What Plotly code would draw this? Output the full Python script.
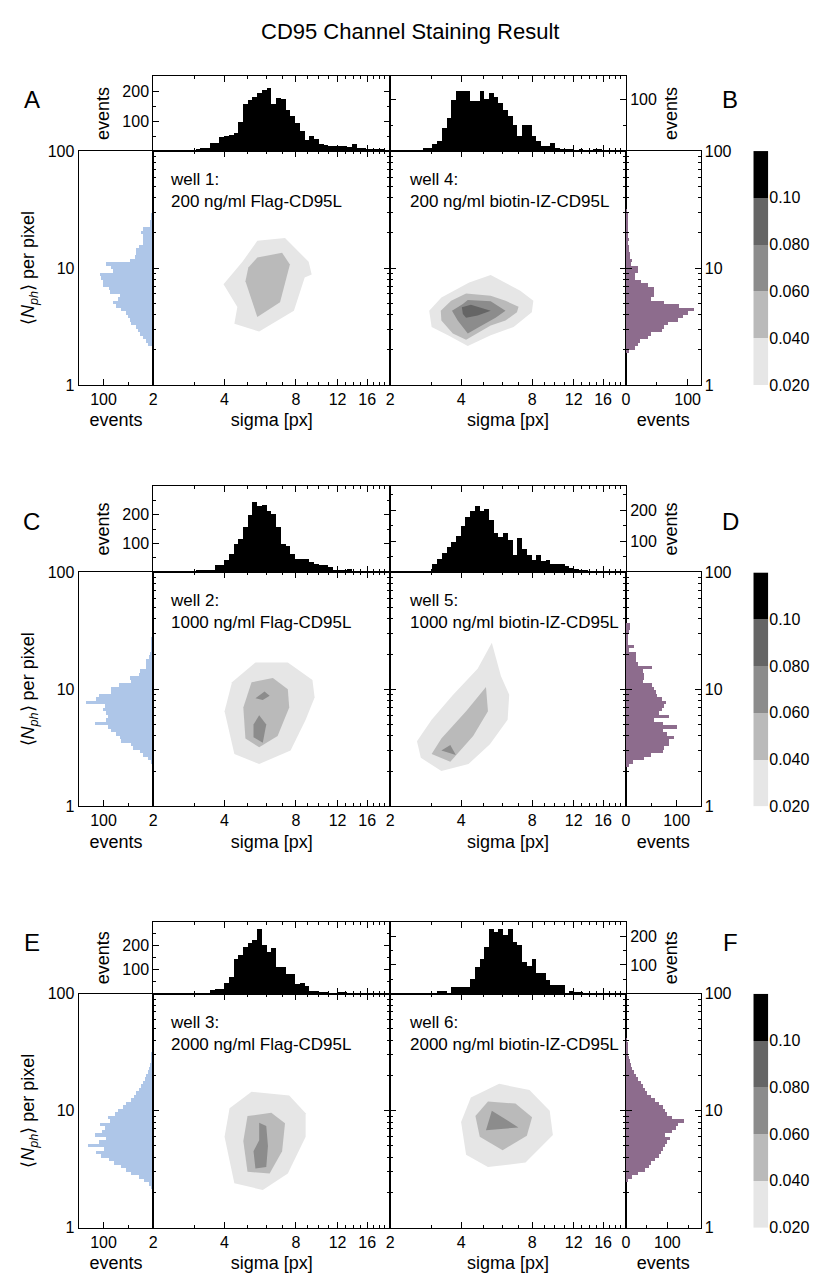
import numpy as np
import plotly.graph_objects as go

W, H = 816, 1285
FONT = "Liberation Sans, Arial, sans-serif"

# ---------------- data ----------------
title_text = "CD95 Channel Staining Result"
panel_letters = [("A", "B"), ("C", "D"), ("E", "F")]
well_left = ["well 1:<br>200 ng/ml Flag-CD95L",
             "well 2:<br>1000 ng/ml Flag-CD95L",
             "well 3:<br>2000 ng/ml Flag-CD95L"]
well_right = ["well 4:<br>200 ng/ml biotin-IZ-CD95L",
              "well 5:<br>1000 ng/ml biotin-IZ-CD95L",
              "well 6:<br>2000 ng/ml biotin-IZ-CD95L"]

sigma_ticks = [2, 4, 8, 12, 16]
sigma_minor = [3, 5, 6, 7, 9, 10, 11, 13, 14, 15, 17, 18, 19]
nph_ticks = [1, 10, 100]
nph_minor = [2, 3, 4, 5, 6, 7, 8, 9, 20, 30, 40, 50, 60, 70, 80, 90]
SIGMA_RANGE = (2, 20)
NPH_RANGE = (1, 100)

level_values = [0.02, 0.04, 0.06, 0.08, 0.10, 0.12]
level_labels = ["0.020", "0.040", "0.060", "0.080", "0.10"]
level_colors = ["#e6e6e6", "#bababa", "#8c8c8c", "#656565", "#000000"]

TOP_BIN = 0.02   # log10(sigma) bin width of the top histograms
SIDE_BIN = 0.03  # log10(Nph) bin width of the side histograms

# top histograms (events per sigma bin, 50 bins from 2 to 20 px)
top_left = [
    [0,0,0,0,0,2,2,0,3,8,11,11,28,28,48,50,55,62,97,158,172,183,197,205,211,159,180,175,139,117,94,67,36,50,39,22,19,18,17,17,16,13,22,11,10,8,7,5,4,3],
    [0,0,0,0,0,0,0,2,2,11,11,9,9,28,28,45,66,98,117,160,200,245,230,235,215,205,160,100,94,66,49,49,49,37,32,28,28,20,9,9,9,12,5,5,5,5,5,5,5,5],
    [0,0,0,0,0,0,0,0,0,3,3,3,18,21,21,48,69,148,162,194,212,225,270,205,173,190,113,113,83,83,41,48,32,14,14,10,10,3,3,7,7,2,2,2,2,2,2,2,2,1],
]
top_right = [
    [0,0,0,0,0,0,0,6,6,13,19,45,65,100,117,117,117,98,98,117,101,113,105,94,79,68,50,29,50,50,29,19,10,10,15,5,3,3,2,1,2,1,1,2,3,1,1,1,1,1],
    [0,0,0,0,0,2,2,6,6,30,46,65,84,100,118,150,180,200,215,200,205,170,127,116,129,105,57,111,78,59,43,57,38,41,27,30,30,23,14,11,9,9,6,6,3,3,3,1,1,1],
    [0,0,0,0,0,0,0,0,0,0,11,11,4,26,26,26,26,52,94,120,163,225,217,225,206,227,182,170,111,98,120,74,74,49,32,32,32,0,11,7,7,2,2,1,1,0,1,0,0,0],
]
top_left_range = [253, 300, 300]
top_right_range = [146, 280, 250]

# side histograms (events per log10(Nph) bin of 0.03, starting at bin index *_start)
side_left_start = [11, 12, 11]
side_left = [
    [12,15,22,28,32,35,45,48,51,55,65,75,81,71,68,88,90,101,101,105,108,81,85,95,48,38,35,35,30,21,22,21,25,22,8,8,5,5,3],
    [5,12,21,28,41,45,65,68,75,85,91,118,95,91,95,101,98,135,115,110,85,85,70,45,48,30,28,15,15,15,10,8,6,6,5,5,4,4,3,3,2],
    [5,10,20,30,45,55,65,80,90,105,115,100,132,110,95,118,104,98,108,88,92,78,72,62,56,46,40,35,30,25,22,18,15,12,10,8,6,5,5,4,3,3,2,2],
]
side_right_start = [9, 11, 13]
side_right = [
    [5,14,19,22,35,40,59,62,68,84,92,100,111,86,62,40,46,46,46,35,25,14,14,19,19,8,10,6,6,5,5,4,5,3,3,3,2,2,2,2,1],
    [6,13,36,49,72,75,85,85,95,80,72,101,72,56,85,65,70,75,78,70,62,59,55,52,33,36,35,33,52,23,20,20,20,6,16,3,3,3,6,8,8],
    [5,15,30,45,55,60,70,80,85,90,95,100,105,95,110,120,125,140,110,100,95,90,80,70,60,50,45,40,35,30,25,20,15,12,10,8,6,5,4,3,2],
]
side_left_range = [150, 150, 150]
side_right_range = [121, 147, 180]

# density contour levels: boundary of each level (sigma [px], <Nph>) per well
contours_left = [
    [  # well 1
        [(5.50,17.1),(7.20,18.1),(9.06,11.3),(9.33,8.8),(8.72,8.3),(7.85,4.3),(5.60,2.86),(4.40,3.34),(4.53,4.64),(3.96,7.26),(4.76,11.3)],
        [(5.50,12.3),(7.00,13.5),(7.55,10.7),(6.86,5.1),(5.50,3.82),(5.24,5.2),(4.90,7.7),(5.04,10.1)],
    ],
    [  # well 2
        [(4.4,2.8),(5.6,2.3),(7.6,3.0),(8.8,5.5),(9.6,8.5),(9.4,12),(7.4,17),(5.4,17),(4.3,11.5),(4.0,6.5)],
        [(4.9,3.8),(5.6,3.2),(6.7,4.0),(7.5,7.0),(7.4,10),(6.4,12.5),(5.2,11.5),(4.8,7.0)],
        [(5.4,8.4),(5.9,9.6),(6.2,8.8),(5.8,8.1)],
        [(5.3,3.9),(5.8,3.5),(6.0,5.0),(5.6,6.0),(5.3,5.0)],
    ],
    [  # well 3
        [(4.4,2.4),(5.8,2.1),(7.4,2.9),(8.8,6.0),(8.8,9.5),(7.5,13.5),(5.2,14.5),(4.2,10.5),(4.0,6.0)],
        [(5.0,3.0),(6.2,2.9),(7.0,4.5),(7.2,7.8),(6.3,9.6),(5.0,9.0),(4.8,5.5)],
        [(5.4,3.2),(6.0,3.3),(6.1,5.0),(6.0,7.4),(5.6,7.9),(5.6,5.6),(5.3,4.5)],
    ],
]
contours_left_levels = [[0, 1], [0, 1, 2, 2], [0, 1, 2]]
contours_right = [
    [  # well 4
        [(2.93,4.32),(3.30,5.6),(4.33,7.5),(5.34,8.7),(7.13,6.4),(8.10,5.25),(7.98,4.19),(6.68,3.13),(5.34,2.66),(4.27,2.15),(3.52,2.66),(3.00,3.13)],
        [(3.28,4.32),(3.63,5.25),(4.20,6.05),(5.34,5.78),(6.17,5.25),(7.01,4.67),(6.90,4.19),(6.17,3.56),(5.34,3.23),(4.20,2.44),(3.69,2.75),(3.30,3.56)],
        [(3.66,4.32),(4.07,4.92),(4.27,5.32),(5.34,5.19),(6.17,4.32),(5.60,3.75),(4.77,3.13),(4.27,2.75),(3.87,3.56)],
        [(4.03,4.62),(4.40,4.85),(5.34,4.32),(4.70,3.92),(4.20,3.75),(4.07,4.05)],
    ],
    [  # well 5
        [(2.7,2.6),(3.3,2.0),(4.3,2.3),(5.3,3.4),(6.3,5.5),(6.4,9.0),(5.9,13),(5.4,25),(4.7,15),(3.7,9.0),(3.0,5.5),(2.6,3.6)],
        [(3.0,2.8),(3.6,2.4),(4.5,4.0),(5.2,6.5),(5.1,10.5),(4.2,6.5),(3.3,3.8)],
        [(3.3,3.0),(3.8,2.75),(3.6,3.35)],
    ],
    [  # well 6
        [(4.2,4.2),(5.2,3.3),(7.5,3.6),(9.8,6.2),(9.5,10),(7.8,15),(5.8,17),(4.4,13),(4.0,8.0)],
        [(4.8,6.0),(6.0,4.6),(7.6,6.1),(8.0,8.8),(6.8,11.5),(5.2,12),(4.6,9.0)],
        [(5.1,6.8),(7.0,7.2),(5.4,10)],
    ],
]
contours_right_levels = [[0, 1, 2, 3], [0, 1, 2], [0, 1, 2]]

# ---------------- layout geometry (pixels) ----------------
main_top = [145, 572, 999]
top_hist_top = [69, 484, 926]
MAIN_H = 237
COLS = dict(sl=(75, 150), ml=(150, 388), mr=(388, 625), sr=(625, 700), cb=(753, 768))

L = np.log10


def xd(a, b):
    return [a / W, b / W]


def yd(top, bottom):
    return [1 - bottom / H, 1 - top / H]


def ax(**kw):
    d = dict(showline=True, linecolor="black", linewidth=1, mirror=True,
             ticks="inside", tickcolor="black", ticklen=6, tickwidth=1,
             showgrid=False, zeroline=False, fixedrange=True,
             tickfont=dict(size=16, family=FONT, color="black"))
    d.update(kw)
    return d


fig = go.Figure()
layout = dict(width=W, height=H, margin=dict(l=0, r=0, t=0, b=0),
              paper_bgcolor="white", plot_bgcolor="rgba(0,0,0,0)",
              showlegend=False, font=dict(family=FONT, size=16, color="black"),
              annotations=[])

minor_sigma = dict(tickvals=list(L(sigma_minor)), ticks="inside", ticklen=3, tickcolor="black")
minor_nph = dict(tickvals=list(L(nph_minor)), ticks="inside", ticklen=3, tickcolor="black")
xr = [L(SIGMA_RANGE[0]), L(SIGMA_RANGE[1])]
yr = [L(NPH_RANGE[0]), L(NPH_RANGE[1])]
title_font = dict(size=18, family=FONT, color="black")

n = 0
for r in range(3):
    T = main_top[r]
    B = T + MAIN_H
    TT = top_hist_top[r]
    ids = {}
    for key in ["tl", "tr", "sl", "ml", "mr", "sr", "cb"]:
        n += 1
        ids[key] = n

    def setax(key, xdom, ydom, xopt, yopt):
        k = ids[key]
        xopt = dict(xopt, domain=xdom, anchor=f"y{k}")
        yopt = dict(yopt, domain=ydom, anchor=f"x{k}")
        layout[f"xaxis{k}"] = xopt
        layout[f"yaxis{k}"] = yopt

    # main panels
    for key in ["ml", "mr"]:
        setax(key, xd(*COLS[key]), yd(T, B),
              ax(range=xr, tickvals=list(L(sigma_ticks)), ticktext=[str(v) for v in sigma_ticks],
                 mirror="ticks", minor=minor_sigma,
                 title=dict(text="sigma [px]", font=title_font, standoff=6)),
              ax(range=yr, tickvals=list(L(nph_ticks)), showticklabels=False,
                 mirror="ticks", minor=minor_nph))
    # top histograms
    for key, side, rng in [("tl", "left", top_left_range[r]), ("tr", "right", top_right_range[r])]:
        tv = [v for v in (100, 200, 300) if v < rng]
        mv = [v for v in (50, 150, 250) if v < rng]
        cols = COLS["ml"] if key == "tl" else COLS["mr"]
        setax(key, xd(*cols), yd(TT, T),
              ax(range=xr, tickvals=list(L(sigma_ticks)), showticklabels=False, side="top",
                 mirror="ticks", minor=minor_sigma),
              ax(range=[0, rng], tickvals=tv, ticktext=[str(v) for v in tv], side=side,
                 mirror="ticks", minor=dict(tickvals=mv, ticks="inside", ticklen=3, tickcolor="black"),
                 title=dict(text="events", font=title_font, standoff=8)))
    # left side histogram
    setax("sl", xd(*COLS["sl"]), yd(T, B),
          ax(range=[side_left_range[r], 0], tickvals=[100], ticktext=["100"],
             minor=dict(tickvals=[50], ticks="inside", ticklen=3, tickcolor="black"),
             title=dict(text="events", font=title_font, standoff=6)),
          ax(range=yr, tickvals=list(L(nph_ticks)), ticktext=[str(v) for v in nph_ticks],
             ticks="", side="left",
             title=dict(text="⟨<i>N</i><sub><i>ph</i></sub>⟩ per pixel", font=title_font, standoff=8)))
    # right side histogram
    rr = side_right_range[r]
    setax("sr", xd(*COLS["sr"]), yd(T, B),
          ax(range=[0, rr], tickvals=[0, 100], ticktext=["0", "100"],
             minor=dict(tickvals=[v for v in (50, 150) if v < rr], ticks="inside", ticklen=3, tickcolor="black"),
             title=dict(text="events", font=title_font, standoff=6)),
          ax(range=yr, tickvals=list(L(nph_ticks)), ticktext=[str(v) for v in nph_ticks],
             side="right", mirror="ticks", minor=minor_nph))
    # colour bar
    setax("cb", xd(*COLS["cb"]), yd(T, B),
          dict(visible=False, range=[-0.5, 0.5], fixedrange=True),
          dict(range=[level_values[0], level_values[-1]], side="right", showline=False,
               tickvals=level_values[:5], ticktext=level_labels, ticks="",
               showgrid=False, zeroline=False, fixedrange=True,
               tickfont=dict(size=16, family=FONT, color="black")))

    # ---- traces ----
    edges = L(SIGMA_RANGE[0]) + TOP_BIN * (np.arange(50) + 0.5)
    fig.add_trace(go.Bar(x=edges, y=top_left[r], width=TOP_BIN, marker=dict(color="black", line=dict(width=0)),
                         xaxis=f"x{ids['tl']}", yaxis=f"y{ids['tl']}"))
    fig.add_trace(go.Bar(x=edges, y=top_right[r], width=TOP_BIN, marker=dict(color="black", line=dict(width=0)),
                         xaxis=f"x{ids['tr']}", yaxis=f"y{ids['tr']}"))
    yl = SIDE_BIN * (np.arange(len(side_left[r])) + side_left_start[r] + 0.5)
    fig.add_trace(go.Bar(y=yl, x=side_left[r], orientation="h", width=SIDE_BIN,
                         marker=dict(color="#aec6e8", line=dict(width=0)),
                         xaxis=f"x{ids['sl']}", yaxis=f"y{ids['sl']}"))
    yr_ = SIDE_BIN * (np.arange(len(side_right[r])) + side_right_start[r] + 0.5)
    fig.add_trace(go.Bar(y=yr_, x=side_right[r], orientation="h", width=SIDE_BIN,
                         marker=dict(color="#8d6c8d", line=dict(width=0)),
                         xaxis=f"x{ids['sr']}", yaxis=f"y{ids['sr']}"))
    for key, polys, lv in [("ml", contours_left[r], contours_left_levels[r]),
                           ("mr", contours_right[r], contours_right_levels[r])]:
        for poly, li in zip(polys, lv):
            s = [p[0] for p in poly]
            nn = [p[1] for p in poly]
            fig.add_trace(go.Scatter(x=L(s), y=L(nn), mode="lines", fill="toself",
                                     fillcolor=level_colors[li], line=dict(width=0, color=level_colors[li]),
                                     hoverinfo="skip", xaxis=f"x{ids[key]}", yaxis=f"y{ids[key]}"))
    mids = [(level_values[i] + level_values[i + 1]) / 2 for i in range(5)]
    cs = []
    for i, c in enumerate(level_colors):
        cs += [[i / 5, c], [(i + 1) / 5, c]]
    fig.add_trace(go.Heatmap(z=[[m] for m in mids], x=[0], y=mids, colorscale=cs,
                             zmin=level_values[0], zmax=level_values[-1], showscale=False,
                             xaxis=f"x{ids['cb']}", yaxis=f"y{ids['cb']}"))

    # annotations
    layout["annotations"] += [
        dict(text=well_left[r], xref="paper", yref="paper", x=165 / W, y=1 - (T + 17) / H,
             xanchor="left", yanchor="top", showarrow=False, align="left",
             font=dict(size=17, family=FONT, color="black")),
        dict(text=well_right[r], xref="paper", yref="paper", x=405 / W, y=1 - (T + 17) / H,
             xanchor="left", yanchor="top", showarrow=False, align="left",
             font=dict(size=17, family=FONT, color="black")),
        dict(text=panel_letters[r][0], xref="paper", yref="paper", x=28 / W, y=1 - (T - 52) / H,
             xanchor="center", yanchor="middle", showarrow=False,
             font=dict(size=24, family=FONT, color="black")),
        dict(text=panel_letters[r][1], xref="paper", yref="paper", x=730 / W, y=1 - (T - 52) / H,
             xanchor="center", yanchor="middle", showarrow=False,
             font=dict(size=24, family=FONT, color="black")),
    ]

layout["annotations"].append(dict(text=title_text, xref="paper", yref="paper", x=408 / W, y=1 - 24 / H,
                                  xanchor="center", yanchor="middle", showarrow=False,
                                  font=dict(size=22, family=FONT, color="black")))
layout["bargap"] = 0
fig.update_layout(**layout)
fig.write_html("out.html")
